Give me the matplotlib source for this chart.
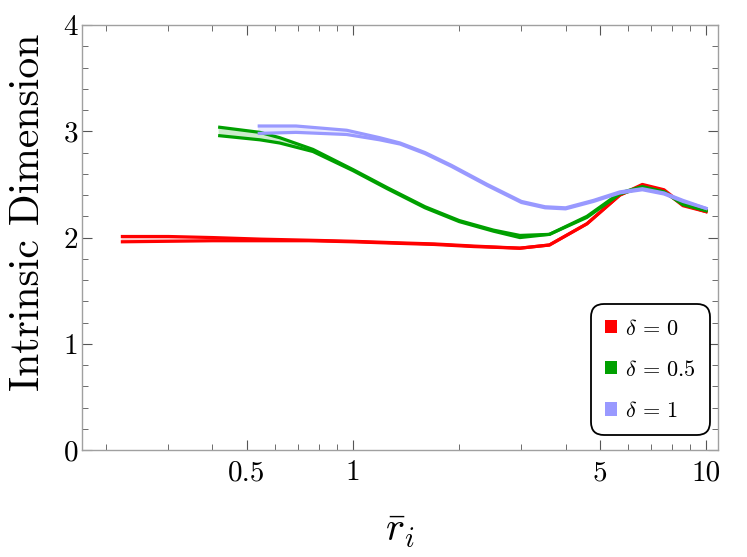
import matplotlib
matplotlib.use("Agg")
from matplotlib import pyplot as plt
from matplotlib.ticker import FixedLocator, NullFormatter, FixedFormatter
from matplotlib.patches import Patch

plt.rcParams['font.family'] = 'serif'
plt.rcParams['font.serif'] = ['cmr10']
plt.rcParams['mathtext.fontset'] = 'cm'
plt.rcParams['axes.unicode_minus'] = False

# delta = 0
x_d0 = [0.22, 0.3, 0.4, 0.55, 0.75, 1.0, 1.36, 1.7, 2.2, 2.97, 3.6, 4.6, 5.7, 6.6, 7.6, 8.6, 10.1]
up_d0 = [2.01, 2.01, 2.00, 1.985, 1.975, 1.965, 1.95, 1.94, 1.92, 1.90, 1.93, 2.13, 2.40, 2.50, 2.45, 2.31, 2.24]
lo_d0 = [1.96, 1.965, 1.97, 1.97, 1.97, 1.96, 1.945, 1.935, 1.915, 1.90, 1.93, 2.13, 2.40, 2.49, 2.44, 2.30, 2.24]

# delta = 0.5
x_d05 = [0.415, 0.545, 0.62, 0.77, 1.0, 1.25, 1.6, 2.0, 2.5, 2.97, 3.6, 4.6, 5.7, 6.6, 7.6, 8.6, 10.1]
up_d05 = [3.04, 2.99, 2.94, 2.83, 2.64, 2.47, 2.29, 2.16, 2.07, 2.02, 2.03, 2.20, 2.42, 2.48, 2.43, 2.32, 2.25]
lo_d05 = [2.96, 2.92, 2.89, 2.81, 2.63, 2.46, 2.28, 2.15, 2.06, 2.00, 2.03, 2.19, 2.41, 2.47, 2.43, 2.31, 2.25]

# delta = 1
x_d1 = [0.537, 0.69, 0.96, 1.19, 1.36, 1.6, 1.9, 2.4, 3.0, 3.5, 4.0, 4.8, 5.7, 6.6, 7.6, 8.6, 10.1]
up_d1 = [3.05, 3.05, 3.01, 2.94, 2.89, 2.80, 2.68, 2.50, 2.34, 2.29, 2.28, 2.35, 2.43, 2.46, 2.42, 2.35, 2.27]
lo_d1 = [2.98, 2.99, 2.97, 2.92, 2.88, 2.79, 2.67, 2.49, 2.33, 2.28, 2.27, 2.34, 2.42, 2.45, 2.41, 2.34, 2.27]

labels = [r'$\delta\,=\,0$', r'$\delta\,=\,0.5$', r'$\delta\,=\,1$']
colors = ['#ff0000', '#00a000', '#9999ff']

fig = plt.figure(figsize=(7.47, 5.57), dpi=100)
ax = fig.add_axes([0.11, 0.192, 0.851, 0.763])

series = [(x_d0, up_d0, lo_d0), (x_d05, up_d05, lo_d05), (x_d1, up_d1, lo_d1)]
for (xs, up, lo), c in zip(series, colors):
    ax.fill_between(xs, lo, up, color=c, alpha=0.2, lw=0)
    ax.plot(xs, up, color=c, lw=2.3, solid_capstyle='butt')
    ax.plot(xs, lo, color=c, lw=2.3, solid_capstyle='butt')

ax.set_xscale('log')
ax.set_xlim(0.171, 10.8)
ax.set_ylim(0, 4)

major_x = [0.5, 1, 5, 10]
minor_x = [0.2, 0.3, 0.4, 0.6, 0.7, 0.8, 0.9, 2, 3, 4, 6, 7, 8, 9]
ax.xaxis.set_major_locator(FixedLocator(major_x))
ax.xaxis.set_major_formatter(FixedFormatter(['0.5', '1', '5', '10']))
ax.xaxis.set_minor_locator(FixedLocator(minor_x))
ax.xaxis.set_minor_formatter(NullFormatter())
ax.yaxis.set_major_locator(FixedLocator([0, 1, 2, 3, 4]))
ax.yaxis.set_minor_locator(FixedLocator([0.2 * i for i in range(1, 20) if i % 5]))

for s in ax.spines.values():
    s.set_color('#a0a0a0')
    s.set_linewidth(1.0)
ax.tick_params(which='both', direction='in', top=True, right=True, color='#555555', labelsize=21)
ax.tick_params(axis='x', pad=7)
ax.tick_params(axis='y', pad=3)
ax.tick_params(which='major', length=7, width=0.8)
ax.tick_params(which='minor', length=4, width=0.6)

ax.set_ylabel('Intrinsic Dimension', fontsize=30, labelpad=12)
ax.yaxis.label.set_y(0.56)
ax.set_xlabel(r'$\bar{r}_i$', fontsize=29, labelpad=20)

handles = [Patch(facecolor=c, edgecolor='none') for c in colors]
leg = ax.legend(handles, labels, loc='lower right', bbox_to_anchor=(0.988, 0.035),
                fontsize=16, handlelength=0.55, handleheight=0.55, handletextpad=0.35,
                labelspacing=0.95, borderpad=0.65, borderaxespad=0.0, fancybox=True,
                framealpha=1, edgecolor='black')
leg.get_frame().set_linewidth(1.3)
leg.get_frame().set_boxstyle('round', pad=0, rounding_size=0.6)

fig.savefig('out.png', dpi=100)
